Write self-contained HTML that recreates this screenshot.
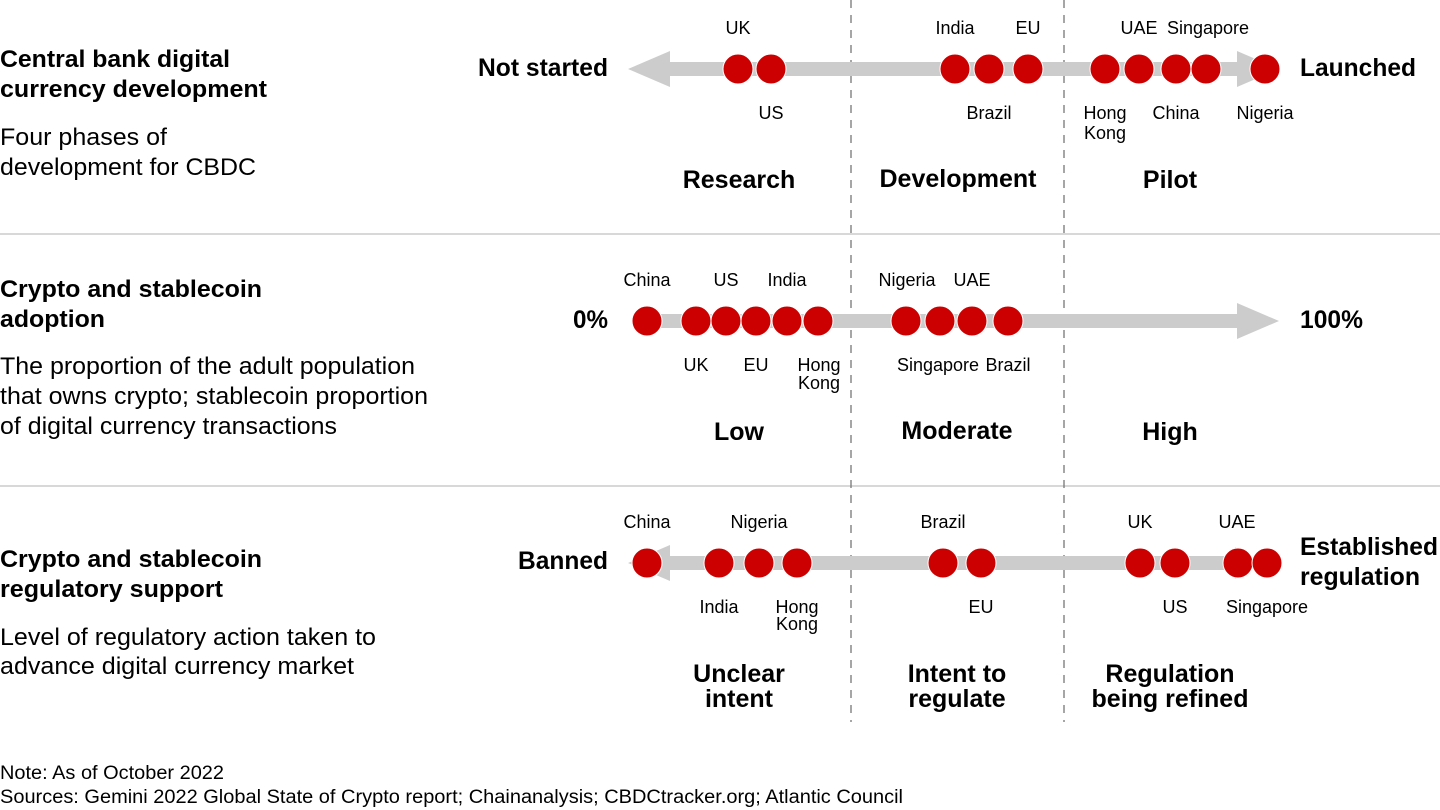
<!DOCTYPE html>
<html><head><meta charset="utf-8"><style>
html,body{margin:0;padding:0;background:#fff;}
svg{display:block;font-family:"Liberation Sans",Arial,sans-serif;}
.h{font-size:24px;font-weight:bold;fill:#000}
.d{font-size:24px;fill:#000}
.l{font-size:18px;fill:#000}
.b{font-size:25px;font-weight:bold;fill:#000}
.c{fill:#cc0000;stroke:#fff;stroke-width:1}
.n{font-size:19px;fill:#000}
</style></head><body>
<svg width="1440" height="810" viewBox="0 0 1440 810">
<line x1="0" y1="234" x2="1440" y2="234" stroke="#cccccc" stroke-width="1.5"/>
<line x1="0" y1="486" x2="1440" y2="486" stroke="#cccccc" stroke-width="1.5"/>
<line x1="851" y1="0" x2="851" y2="722" stroke="#777" stroke-width="1.3" stroke-dasharray="8,7"/>
<line x1="1064" y1="0" x2="1064" y2="722" stroke="#777" stroke-width="1.3" stroke-dasharray="8,7"/>

<!-- Row 1 -->
<text class="h" x="0" y="67" textLength="230" lengthAdjust="spacingAndGlyphs">Central bank digital</text>
<text class="h" x="0" y="97" textLength="267" lengthAdjust="spacingAndGlyphs">currency development</text>
<text class="d" x="0" y="145" textLength="167" lengthAdjust="spacingAndGlyphs">Four phases of</text>
<text class="d" x="0" y="175" textLength="256" lengthAdjust="spacingAndGlyphs">development for CBDC</text>
<text class="b" x="478" y="76" textLength="130" lengthAdjust="spacingAndGlyphs">Not started</text>
<text class="b" x="1300" y="76" textLength="116" lengthAdjust="spacingAndGlyphs">Launched</text>
<polygon fill="#cccccc" points="628,69 670,51 670,62 1237,62 1237,51 1279,69 1237,87 1237,76 670,76 670,87"/>
<g class="c">
<circle cx="738" cy="69" r="15"/><circle cx="771" cy="69" r="15"/>
<circle cx="955" cy="69" r="15"/><circle cx="989" cy="69" r="15"/><circle cx="1028" cy="69" r="15"/>
<circle cx="1105" cy="69" r="15"/><circle cx="1139" cy="69" r="15"/><circle cx="1176" cy="69" r="15"/><circle cx="1206" cy="69" r="15"/><circle cx="1265" cy="69" r="15"/>
</g>
<g class="l" text-anchor="middle">
<text x="738" y="34">UK</text><text x="955" y="34">India</text><text x="1028" y="34">EU</text>
<text x="1139" y="34">UAE</text><text x="1208" y="34">Singapore</text>
<text x="771" y="119">US</text><text x="989" y="119">Brazil</text>
<text x="1105" y="119">Hong</text><text x="1105" y="139">Kong</text>
<text x="1176" y="119">China</text><text x="1265" y="119">Nigeria</text>
</g>
<g class="b" text-anchor="middle">
<text x="739" y="188">Research</text><text x="958" y="187">Development</text><text x="1170" y="188">Pilot</text>
</g>

<!-- Row 2 -->
<text class="h" x="0" y="297" textLength="262" lengthAdjust="spacingAndGlyphs">Crypto and stablecoin</text>
<text class="h" x="0" y="327" textLength="105" lengthAdjust="spacingAndGlyphs">adoption</text>
<text class="d" x="0" y="374" textLength="415" lengthAdjust="spacingAndGlyphs">The proportion of the adult population</text>
<text class="d" x="0" y="404" textLength="428" lengthAdjust="spacingAndGlyphs">that owns crypto; stablecoin proportion</text>
<text class="d" x="0" y="434" textLength="337" lengthAdjust="spacingAndGlyphs">of digital currency transactions</text>
<text class="b" x="573" y="328" textLength="35" lengthAdjust="spacingAndGlyphs">0%</text>
<text class="b" x="1300" y="328" textLength="63" lengthAdjust="spacingAndGlyphs">100%</text>
<polygon fill="#cccccc" points="633,314 1237,314 1237,303 1279,321 1237,339 1237,328 633,328"/>
<g class="c">
<circle cx="647" cy="321" r="15"/><circle cx="696" cy="321" r="15"/><circle cx="726" cy="321" r="15"/><circle cx="756" cy="321" r="15"/><circle cx="787" cy="321" r="15"/><circle cx="818" cy="321" r="15"/>
<circle cx="906" cy="321" r="15"/><circle cx="940" cy="321" r="15"/><circle cx="972" cy="321" r="15"/><circle cx="1008" cy="321" r="15"/>
</g>
<g class="l" text-anchor="middle">
<text x="647" y="286">China</text><text x="726" y="286">US</text><text x="787" y="286">India</text>
<text x="907" y="286">Nigeria</text><text x="972" y="286">UAE</text>
<text x="696" y="371">UK</text><text x="756" y="371">EU</text>
<text x="819" y="371">Hong</text><text x="819" y="389">Kong</text>
<text x="938" y="371">Singapore</text><text x="1008" y="371">Brazil</text>
</g>
<g class="b" text-anchor="middle">
<text x="739" y="440">Low</text><text x="957" y="439">Moderate</text><text x="1170" y="440">High</text>
</g>

<!-- Row 3 -->
<text class="h" x="0" y="567" textLength="262" lengthAdjust="spacingAndGlyphs">Crypto and stablecoin</text>
<text class="h" x="0" y="597" textLength="223" lengthAdjust="spacingAndGlyphs">regulatory support</text>
<text class="d" x="0" y="645" textLength="376" lengthAdjust="spacingAndGlyphs">Level of regulatory action taken to</text>
<text class="d" x="0" y="674" textLength="354" lengthAdjust="spacingAndGlyphs">advance digital currency market</text>
<text class="b" x="518" y="569" textLength="90" lengthAdjust="spacingAndGlyphs">Banned</text>
<text class="b" x="1300" y="555" textLength="138" lengthAdjust="spacingAndGlyphs">Established</text>
<text class="b" x="1300" y="585" textLength="120" lengthAdjust="spacingAndGlyphs">regulation</text>
<polygon fill="#cccccc" points="628,563 670,545 670,556 1235,556 1235,547 1256,563 1235,579 1235,570 670,570 670,581"/>
<g class="c">
<circle cx="647" cy="563" r="15"/><circle cx="719" cy="563" r="15"/><circle cx="759" cy="563" r="15"/><circle cx="797" cy="563" r="15"/>
<circle cx="943" cy="563" r="15"/><circle cx="981" cy="563" r="15"/>
<circle cx="1140" cy="563" r="15"/><circle cx="1175" cy="563" r="15"/><circle cx="1238" cy="563" r="15"/><circle cx="1267" cy="563" r="15"/>
</g>
<g class="l" text-anchor="middle">
<text x="647" y="528">China</text><text x="759" y="528">Nigeria</text><text x="943" y="528">Brazil</text>
<text x="1140" y="528">UK</text><text x="1237" y="528">UAE</text>
<text x="719" y="613">India</text><text x="797" y="613">Hong</text><text x="797" y="630">Kong</text>
<text x="981" y="613">EU</text><text x="1175" y="613">US</text><text x="1267" y="613">Singapore</text>
</g>
<g class="b" text-anchor="middle">
<text x="739" y="682">Unclear</text><text x="739" y="707">intent</text>
<text x="957" y="682">Intent to</text><text x="957" y="707">regulate</text>
<text x="1170" y="682">Regulation</text><text x="1170" y="707">being refined</text>
</g>

<text class="n" x="0" y="779" textLength="224" lengthAdjust="spacingAndGlyphs">Note: As of October 2022</text>
<text class="n" x="0" y="803" textLength="903" lengthAdjust="spacingAndGlyphs">Sources: Gemini 2022 Global State of Crypto report; Chainanalysis; CBDCtracker.org; Atlantic Council</text>
</svg>
</body></html>
